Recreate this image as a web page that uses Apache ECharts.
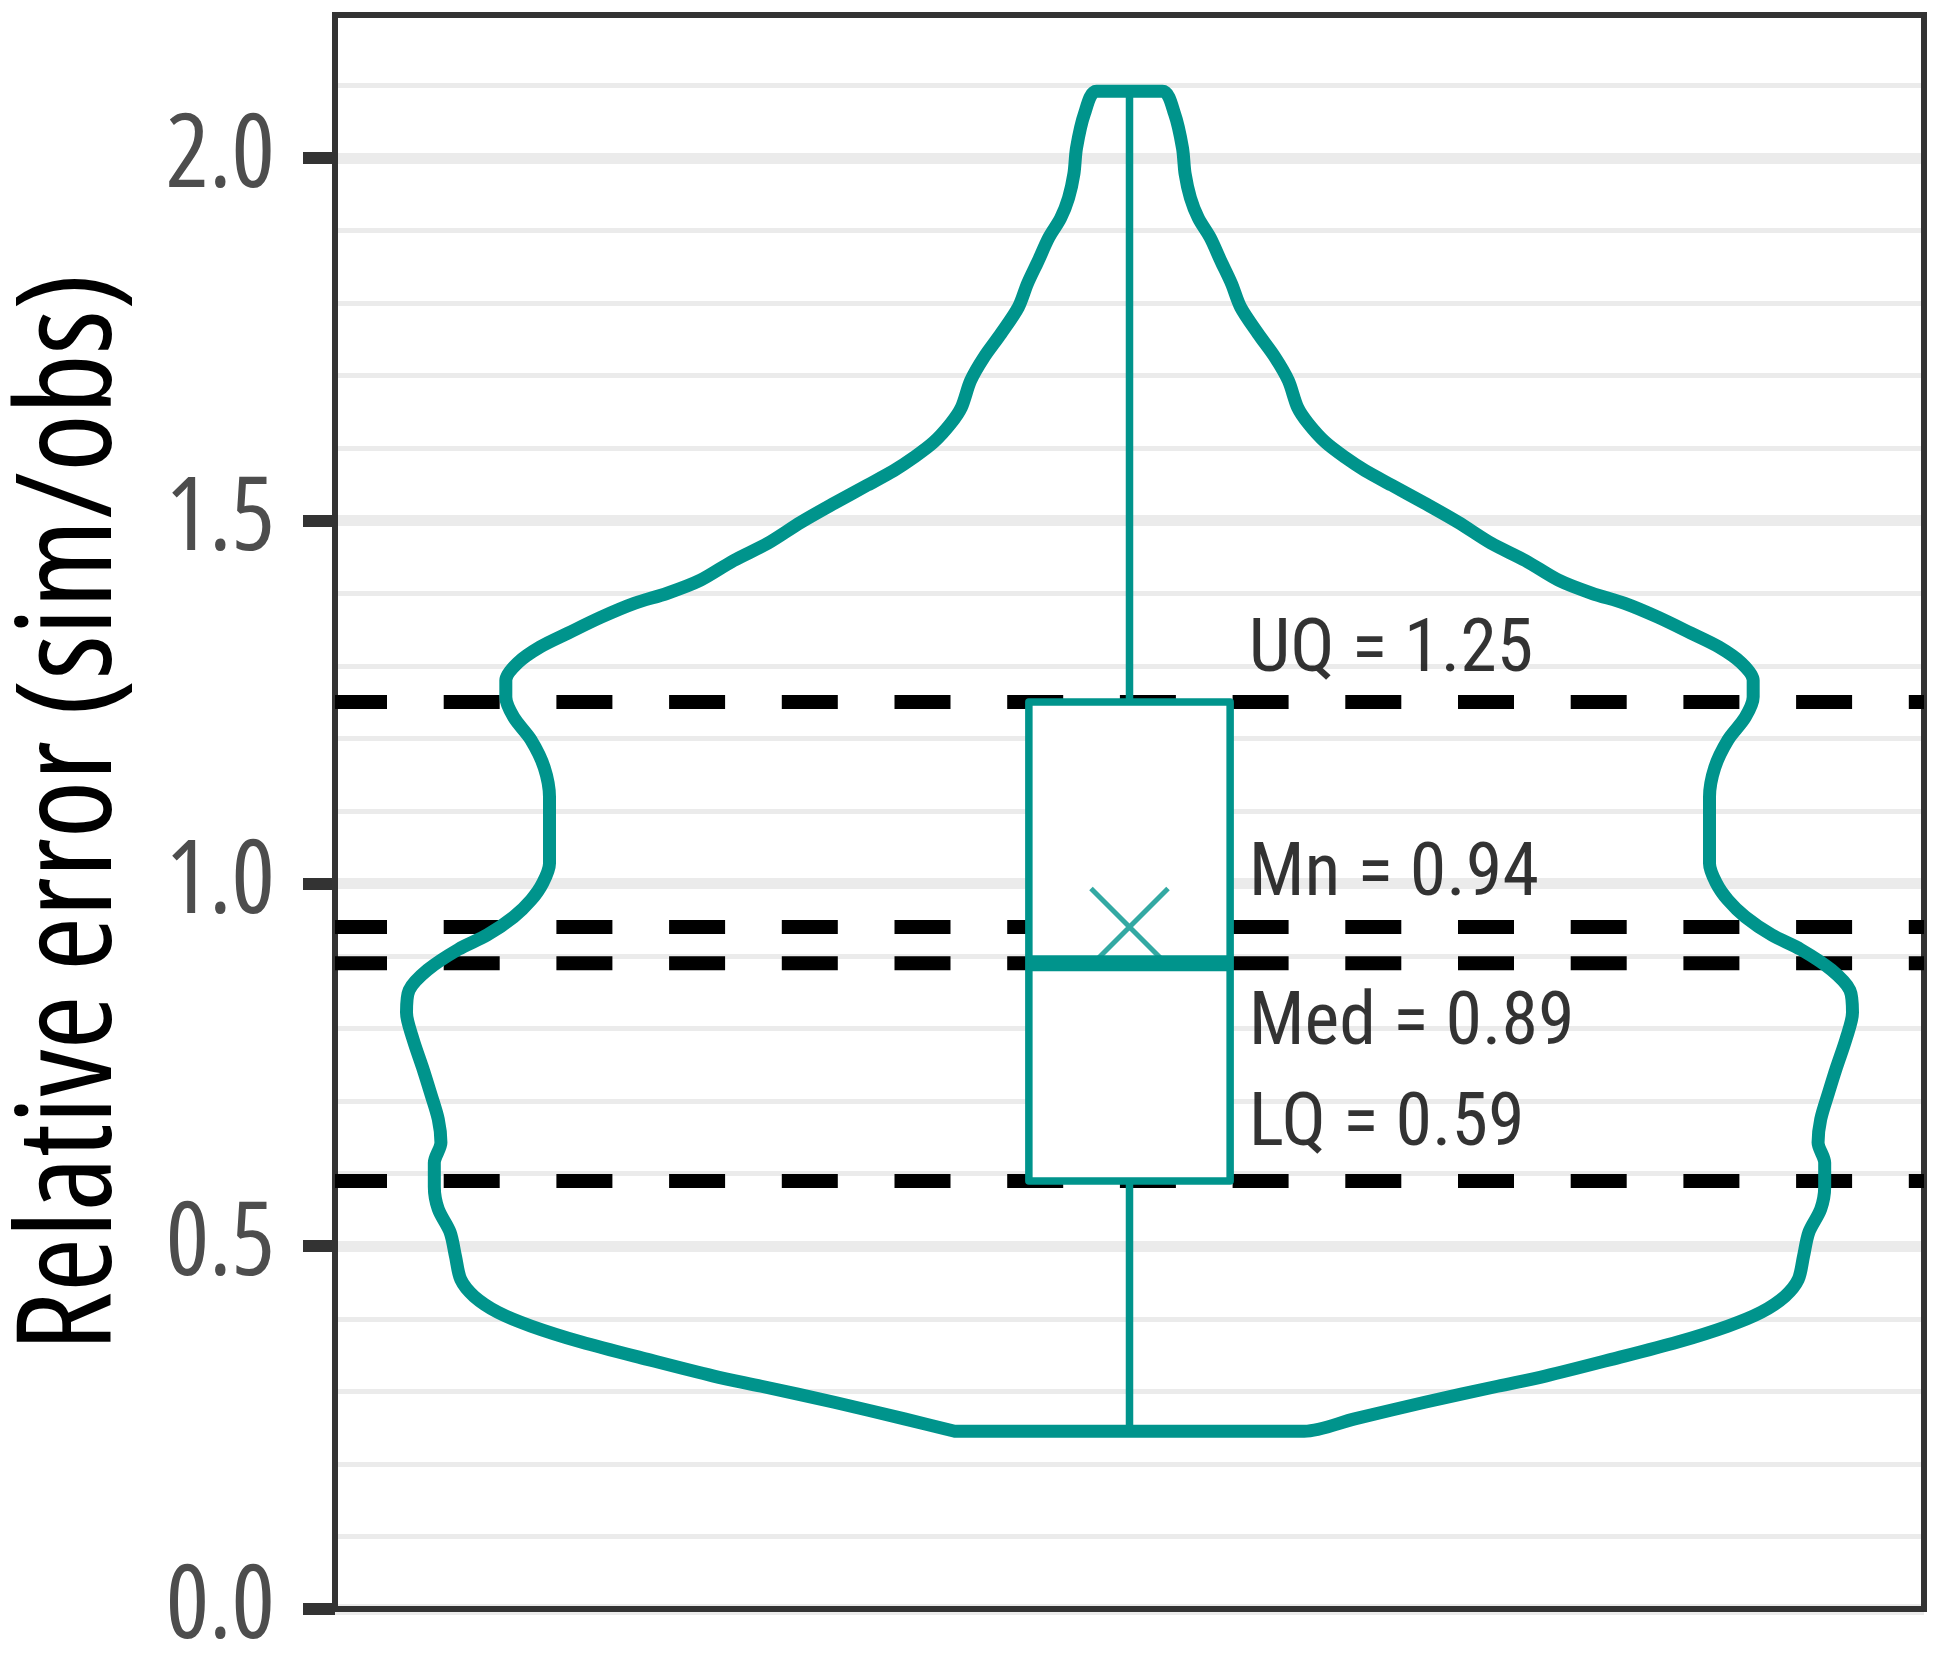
<!DOCTYPE html>
<html>
<head>
<meta charset="utf-8">
<script src="https://cdn.jsdelivr.net/npm/echarts@6/dist/echarts.min.js"></script>
<style>
html,body{margin:0;padding:0;background:#ffffff;}
#chart{width:1942px;height:1662px;}
</style>
</head>
<body>
<div id="chart"></div>
<script>
// ---------------- data ----------------
const Y_TICKS = [0, 0.5, 1.0, 1.5, 2.0];
const Y_MAX = 2.197;
const Y_TITLE = 'Relative error (sim/obs)';

// violin outline: y levels and half-widths (x units, category centre at 1)
const VIOLIN_Y = [0.245, 0.262, 0.285, 0.307, 0.321, 0.344, 0.368, 0.390, 0.409, 0.431,
  0.454, 0.486, 0.519, 0.551, 0.582, 0.615, 0.643, 0.675, 0.712, 0.747,
  0.785, 0.822, 0.853, 0.881, 0.909, 0.929, 0.954, 0.977, 1.001, 1.028,
  1.074, 1.119, 1.160, 1.198, 1.229, 1.257, 1.280, 1.304, 1.326, 1.345,
  1.367, 1.386, 1.400, 1.418, 1.445, 1.469, 1.498, 1.524, 1.549, 1.569,
  1.587, 1.608, 1.634, 1.656, 1.693, 1.725, 1.758, 1.794, 1.827, 1.858,
  1.890, 1.917, 1.945, 1.978, 2.014, 2.061, 2.092];
const VIOLIN_HALF = [0.132, 0.170, 0.223, 0.278, 0.314, 0.364, 0.414, 0.452, 0.477, 0.495,
  0.505, 0.509, 0.513, 0.522, 0.525, 0.525, 0.520, 0.522, 0.528, 0.534,
  0.541, 0.546, 0.544, 0.530, 0.507, 0.485, 0.465, 0.452, 0.443, 0.438,
  0.438, 0.438, 0.442, 0.452, 0.465, 0.471, 0.471, 0.462, 0.445, 0.424,
  0.399, 0.374, 0.349, 0.324, 0.299, 0.273, 0.248, 0.223, 0.198, 0.178,
  0.163, 0.148, 0.135, 0.127, 0.120, 0.110, 0.097, 0.084, 0.077, 0.069,
  0.061, 0.052, 0.046, 0.042, 0.040, 0.034, 0.025];

// box statistics: min, lower quartile, median, upper quartile, max
const BOX_STATS = [0.245, 0.59, 0.89, 1.25, 2.092];
const MEAN_VALUE = 0.94;

// reference lines and their annotations
const STAT_NAMES = ['UQ', 'Mn', 'Med', 'LQ'];
const STAT_VALUES = [1.25, 0.94, 0.89, 0.59];

// ---------------- styles ----------------
const TEAL = '#00948c';
const FONT = "'Open Sans', 'Liberation Sans', sans-serif";
const FONT_ANNOT = "'Roboto', 'Liberation Sans', sans-serif";
const STRETCH = 'normal condensed';
const CENTER = 1;
const BOX_HALF = 0.076;
const LABEL_X = 1.09;
const LABEL_DY = [-50, -50, 62, -54];

const violinLeft = VIOLIN_Y.map((y, i) => [CENTER - VIOLIN_HALF[i], y]);
const violinRight = VIOLIN_Y.map((y, i) => [CENTER + VIOLIN_HALF[i], y]).reverse();
const violinData = violinLeft.concat(violinRight, [violinLeft[0]]);

const series = [];

// dashed reference lines
STAT_VALUES.forEach(v => {
  series.push({
    type: 'line', z: 2, silent: true, symbol: 'none', animation: false,
    data: [[0.4, v], [1.6, v]],
    lineStyle: { color: '#000000', width: 14, type: [56, 56.7], dashOffset: 4, cap: 'butt' }
  });
});

// violin outline
series.push({
  type: 'line', z: 3, silent: true, symbol: 'none', showSymbol: false, animation: false,
  data: violinData, smooth: 0.3,
  lineStyle: { color: TEAL, width: 13, join: 'round', cap: 'round' }
});

// whiskers
series.push({
  type: 'line', z: 3, silent: true, symbol: 'none', animation: false,
  data: [[CENTER, BOX_STATS[3]], [CENTER, BOX_STATS[4]]],
  lineStyle: { color: TEAL, width: 7.5, cap: 'butt' }
});
series.push({
  type: 'line', z: 3, silent: true, symbol: 'none', animation: false,
  data: [[CENTER, BOX_STATS[1]], [CENTER, BOX_STATS[0]]],
  lineStyle: { color: TEAL, width: 7.5, cap: 'butt' }
});

// box
series.push({
  type: 'custom', z: 4, silent: true, animation: false,
  data: [[CENTER, BOX_STATS[1], BOX_STATS[3]]],
  renderItem: function (params, api) {
    const x = api.value(0), lq = api.value(1), uq = api.value(2);
    const p1 = api.coord([x - BOX_HALF, uq]);
    const p2 = api.coord([x + BOX_HALF, lq]);
    return {
      type: 'rect',
      shape: { x: p1[0], y: p1[1], width: p2[0] - p1[0], height: p2[1] - p1[1] },
      style: { fill: '#ffffff', stroke: TEAL, lineWidth: 7.5, lineJoin: 'round' }
    };
  }
});

// mean marker
series.push({
  type: 'scatter', z: 5, silent: true, animation: false,
  data: [[CENTER, MEAN_VALUE]],
  symbol: 'path://M0,0L10,10M10,0L0,10',
  symbolSize: 77,
  itemStyle: { color: 'none', borderColor: TEAL, borderWidth: 5 }
});

// median
series.push({
  type: 'line', z: 6, silent: true, symbol: 'none', animation: false,
  data: [[CENTER - BOX_HALF, BOX_STATS[2]], [CENTER + BOX_HALF, BOX_STATS[2]]],
  lineStyle: { color: TEAL, width: 16, cap: 'butt' }
});

// annotations
series.push({
  type: 'scatter', z: 7, silent: true, animation: false,
  symbolSize: 0,
  data: STAT_VALUES.map((v, i) => ({
    value: [LABEL_X, v, STAT_NAMES[i] + ' = ' + v.toFixed(2)],
    label: { offset: [0, LABEL_DY[i]] }
  })),
  label: {
    show: true, position: 'right', distance: 0,
    align: 'left', verticalAlign: 'middle',
    formatter: p => p.value[2],
    fontFamily: FONT_ANNOT, fontWeight: STRETCH, fontSize: 74, color: '#000000'
  }
});

const chart = echarts.init(document.getElementById('chart'), null, { renderer: 'canvas' });
chart.setOption({
  animation: false,
  backgroundColor: '#ffffff',
  grid: {
    left: 335, right: 18, top: 15, bottom: 53,
    outerBoundsMode: 'none', containLabel: false,
    show: true, z: 1, borderColor: '#333333', borderWidth: 6,
    backgroundColor: 'rgba(0,0,0,0)'
  },
  xAxis: { type: 'value', min: 0.4, max: 1.6, show: false },
  yAxis: [
    {
      type: 'value', min: 0, max: Y_MAX, interval: 0.5, position: 'left',
      name: Y_TITLE, nameLocation: 'middle', nameGap: 196, nameRotate: 90,
      nameTextStyle: { fontFamily: FONT, fontWeight: STRETCH, fontSize: 131, color: '#000000' },
      axisLine: { show: true, lineStyle: { color: '#333333', width: 6 } },
      axisTick: { show: true, customValues: Y_TICKS, length: 32, lineStyle: { color: '#333333', width: 12 } },
      axisLabel: {
        show: true, customValues: Y_TICKS, margin: 60,
        formatter: v => (Y_TICKS.indexOf(v) >= 0 ? v.toFixed(1) : ''),
        fontFamily: FONT, fontWeight: STRETCH, fontSize: 102, color: '#4d4d4d'
      },
      splitLine: { show: true, lineStyle: { color: '#ebebeb', width: 11 } }
    },
    {
      type: 'value', min: 0, max: Y_MAX, interval: 0.1, position: 'right',
      axisLine: { show: false }, axisTick: { show: false }, axisLabel: { show: false },
      splitLine: { show: true, lineStyle: { color: '#ebebeb', width: 5 } }
    }
  ],
  series: series
});
</script>
</body>
</html>
